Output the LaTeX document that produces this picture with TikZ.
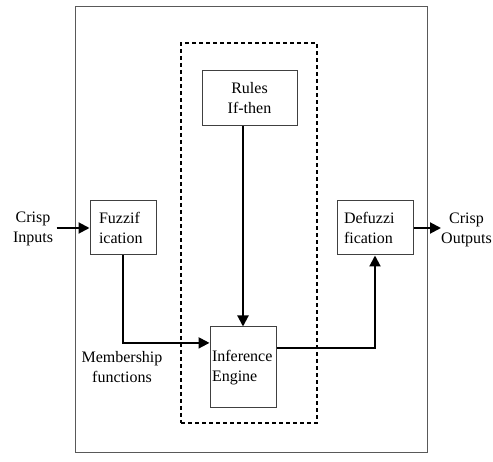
\documentclass[tikz,border=0pt]{standalone}
\usepackage{fontspec}
\setmainfont{Liberation Serif}
\usetikzlibrary{arrows.meta,calc}
\begin{document}
\begin{tikzpicture}[x=1pt,y=-1pt,
  every node/.style={font=\fontsize{16}{20}\selectfont},
  frame/.style={draw=black!65,line width=1pt,rectangle,inner sep=0pt},
  dashbox/.style={draw=black,line width=1.2pt,dash pattern=on 4pt off 3pt,rectangle,inner sep=0pt},
  block/.style={draw=black!75,line width=1pt,rectangle,align=left},
  flow/.style={draw=black,line width=2pt,-{Triangle[length=11pt,width=11pt]}},
  lbl/.style={align=center}]
\useasboundingbox (0,0) rectangle (493,462);
\node[frame,minimum width=352pt,minimum height=445pt] (outer) at (251,229.5) {};
\node[dashbox,minimum width=136pt,minimum height=380pt] (inner) at (249,233) {};
\node[block,align=center,minimum width=95pt,minimum height=55pt] (rules) at (249.5,98.5) {Rules\\If-then};
\node[block,text width=48pt,inner xsep=9pt,minimum height=54pt] (fuzz) at (123,228) {Fuzzif\\ication};
\node[block,text width=62pt,inner xsep=7pt,minimum height=54pt] (defuzz) at (375,228) {Defuzzi\\fication};
\node[block,text width=62pt,inner xsep=2pt,minimum height=81pt] (inf) at (243,367.5) {Inference\\Engine};
\node[lbl] (cin) at (33,228.5) {Crisp\\Inputs};
\node[lbl,inner xsep=0pt,anchor=west] (cout) at (441,229.5) {Crisp\\Outputs};
\node[lbl] (mf) at (122,367) {Membership\\functions};
\draw[flow] (cin.east |- fuzz.west) -- (fuzz.west);
\draw[flow] (defuzz.east) -- (cout.west |- defuzz.east);
\draw[flow] (inf.north |- rules.south) -- (inf.north);
\draw[flow] (fuzz.south) |- ($(inf.north west)!0.2!(inf.south west)$);
\draw[flow] ($(inf.north east)!0.26!(inf.south east)$) -| (defuzz.south);
\end{tikzpicture}
\end{document}
